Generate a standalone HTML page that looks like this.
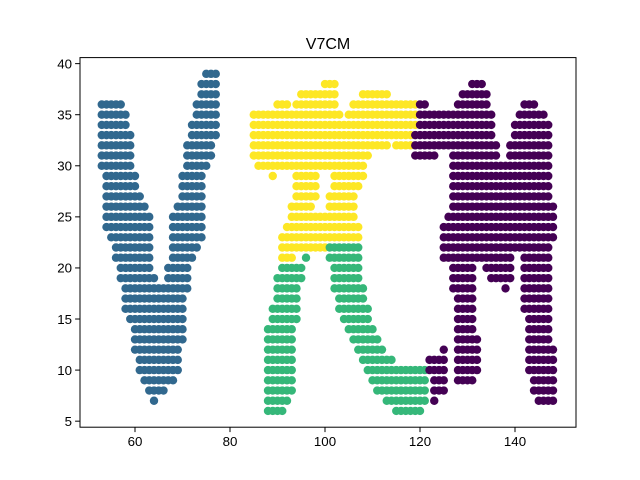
<!DOCTYPE html>
<html><head><meta charset="utf-8"><style>
html,body{margin:0;padding:0;background:#fff;}
svg{display:block;font-family:"Liberation Sans","DejaVu Sans",sans-serif;}
</style></head><body>
<svg id="chart" width="640" height="480" viewBox="0 0 640 480">
<rect width="640" height="480" fill="#fff"/>
<text x="328" y="49" text-anchor="middle" font-size="16" fill="#000">V7CM</text>
<g id="points"></g>
<rect x="80" y="57.6" width="496" height="369.6" fill="none" stroke="#000" stroke-width="1"/>
<g id="xaxis"></g>
<g id="yaxis"></g>
</svg>
<script>
const xTicks = [60, 80, 100, 120, 140];
const yTicks = [5, 10, 15, 20, 25, 30, 35, 40];
// runs: [y, xStart, xEnd]
const runsV = [[39,75,77],[38,74,77],[37,74,77],[36,53,57],[36,73,77],[35,53,58],[35,73,77],[34,53,58],[34,72,77],[33,53,59],[33,72,77],[32,53,59],[32,71,76],[31,53,59],[31,71,76],[30,53,59],[30,71,75],[29,54,60],[29,70,74],[28,54,60],[28,70,74],[27,54,61],[27,70,74],[26,54,62],[26,69,74],[25,54,63],[25,68,74],[24,54,63],[24,68,74],[23,55,63],[23,68,74],[22,56,63],[22,68,73],[21,56,63],[21,68,72],[20,57,63],[20,67,71],[19,57,64],[19,67,71],[18,58,71],[17,58,70],[16,58,70],[15,59,70],[14,60,70],[13,60,70],[12,60,69],[11,61,69],[10,61,69],[9,62,68],[8,63,66],[7,64,64]];
const runs7 = [[38,100,102],[37,95,102],[37,108,113],[36,90,92],[36,94,102],[36,106,119],[35,85,103],[35,105,119],[34,85,119],[33,85,118],[32,85,113],[32,115,118],[31,85,109],[30,86,108],[29,89,89],[29,94,98],[29,102,108],[28,94,98],[28,102,107],[27,94,98],[27,101,106],[26,93,97],[26,101,106],[25,93,106],[24,92,107],[23,91,107],[22,91,100],[21,91,93]];
const runsC = [[22,101,107],[21,96,96],[21,101,107],[20,91,95],[20,102,107],[19,90,95],[19,102,107],[18,90,94],[18,102,108],[17,90,94],[17,103,108],[16,89,94],[16,103,109],[15,89,94],[15,104,109],[14,88,93],[14,105,110],[13,88,93],[13,106,111],[12,88,93],[12,107,112],[11,88,93],[11,108,114],[10,88,93],[10,109,121],[9,88,93],[9,110,121],[8,88,93],[8,111,121],[7,88,92],[7,113,121],[6,88,91],[6,115,120]];
const runsM = [[38,131,133],[37,129,134],[36,120,121],[36,128,134],[36,142,144],[35,120,135],[35,141,146],[34,120,135],[34,140,147],[33,119,135],[33,140,147],[32,119,136],[32,139,147],[31,119,123],[31,127,136],[31,139,147],[30,127,147],[29,127,147],[28,127,147],[27,127,147],[26,127,148],[25,126,148],[24,125,148],[23,125,148],[22,125,147],[21,125,139],[21,142,147],[20,127,131],[20,134,139],[20,142,147],[19,127,131],[19,135,139],[19,142,147],[18,127,131],[18,138,138],[18,142,147],[17,128,131],[17,142,147],[16,128,131],[16,142,147],[15,128,131],[15,143,147],[14,128,131],[14,143,147],[13,128,132],[13,143,147],[12,125,125],[12,128,132],[12,143,148],[11,122,125],[11,128,132],[11,143,148],[10,122,125],[10,128,132],[10,143,148],[9,123,125],[9,128,131],[9,144,148],[8,123,125],[8,144,148],[7,123,123],[7,145,148]];

const NS = "http://www.w3.org/2000/svg";
const L = 80, R = 576, T = 57.6, B = 427.2;
const xMin = 48.42, xMax = 152.84, yMin = 4.41, yMax = 40.59;
function sx(v){ return L + (v - xMin) / (xMax - xMin) * (R - L); }
function sy(v){ return B - (v - yMin) / (yMax - yMin) * (B - T); }

const pg = document.getElementById('points');
function drawGroup(runs, color, name){
  const g = document.createElementNS(NS, 'g');
  
  
  runs.forEach(r => {
    for (let x = r[1]; x <= r[2]; x++) {
      const c = document.createElementNS(NS, 'circle');
      c.setAttribute('cx', sx(x));
      c.setAttribute('cy', sy(r[0]));
      c.setAttribute('r', 4.2);
      c.setAttribute('fill', color);
      
      
      g.appendChild(c);
    }
  });
  pg.appendChild(g);
}
drawGroup(runsV, '#31688e', 'letter-v-points');
drawGroup(runs7, '#fde725', 'digit-7-points');
drawGroup(runsC, '#35b779', 'letter-c-points');
drawGroup(runsM, '#440154', 'letter-m-points');

const xa = document.getElementById('xaxis');
xTicks.forEach(t => {
  const x = sx(t);
  const ln = document.createElementNS(NS, 'line');
  ln.setAttribute('x1', x); ln.setAttribute('x2', x);
  ln.setAttribute('y1', B); ln.setAttribute('y2', B + 4.9);
  ln.setAttribute('stroke', '#000');
  
  
  xa.appendChild(ln);
  const tx = document.createElementNS(NS, 'text');
  tx.setAttribute('x', x); tx.setAttribute('y', B + 19);
  tx.setAttribute('text-anchor', 'middle');
  tx.setAttribute('font-size', '13.3');
  tx.textContent = t;
  
  
  xa.appendChild(tx);
});
const ya = document.getElementById('yaxis');
yTicks.forEach(t => {
  const y = sy(t);
  const ln = document.createElementNS(NS, 'line');
  ln.setAttribute('x1', L - 4.9); ln.setAttribute('x2', L);
  ln.setAttribute('y1', y); ln.setAttribute('y2', y);
  ln.setAttribute('stroke', '#000');
  
  
  ya.appendChild(ln);
  const tx = document.createElementNS(NS, 'text');
  tx.setAttribute('x', L - 8); tx.setAttribute('y', y + 4.8);
  tx.setAttribute('text-anchor', 'end');
  tx.setAttribute('font-size', '13.3');
  tx.textContent = t;
  
  
  ya.appendChild(tx);
});
</script>
</body></html>
